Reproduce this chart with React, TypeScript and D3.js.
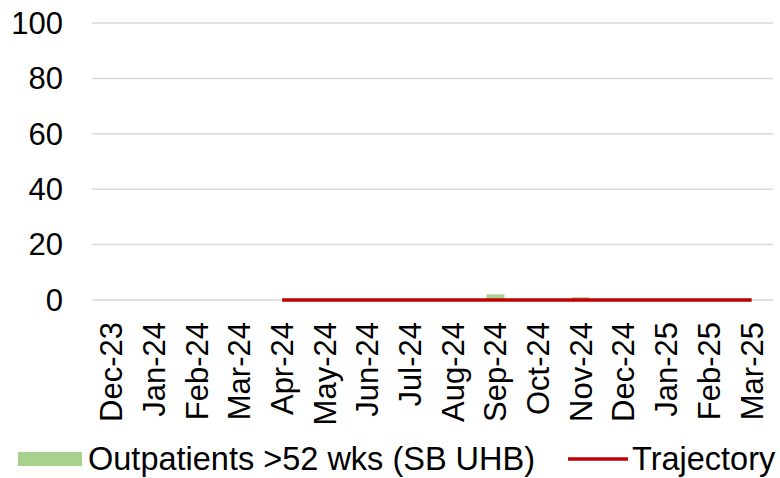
import React from "react";
import * as d3 from "d3";

const categories = ["Dec-23","Jan-24","Feb-24","Mar-24","Apr-24","May-24","Jun-24","Jul-24","Aug-24","Sep-24","Oct-24","Nov-24","Dec-24","Jan-25","Feb-25","Mar-25"];
const outpatients = [0,0,0,0,0,0,0,0,0,2,0,1,0,0,0,0];
const trajectory: (number | null)[] = [null,null,null,null,0,0,0,0,0,0,0,0,0,0,0,0];
const yTicks = [0,20,40,60,80,100];

const W = 780, H = 478;
const left = 90, right = 773, top = 23, bottom = 300;
const FONT = "Liberation Sans, Arial, sans-serif";
const FS = 31;
const LFS = 32.5;

export default function App() {
  const x = d3.scaleBand<string>().domain(categories).range([left, right]).paddingInner(0.58).paddingOuter(0.29);
  const xc = d3.scalePoint<string>().domain(categories).range([left, right]).padding(0.5);
  const y = d3.scaleLinear().domain([0, 100]).range([bottom, top]);
  const line = d3.line<[string, number | null]>()
    .defined(d => d[1] !== null)
    .x(d => xc(d[0]) as number)
    .y(d => y(d[1] as number));
  const pts = categories.map((c, i) => [c, trajectory[i]] as [string, number | null]);

  return (
    <div style={{ position: "absolute", left: 0, top: 0 }}>
      <svg width={W} height={H} style={{ display: "block", background: "#fff" }} fontFamily={FONT}>
        {yTicks.map(t => (
          <g key={t}>
            <line x1={left + 2} x2={right} y1={y(t)} y2={y(t)} stroke="#D9D9D9" strokeWidth={1.5} />
            <text x={63} y={y(t)} dy="0.35em" textAnchor="end" fontSize={FS} fill="#000">{t}</text>
          </g>
        ))}
        {categories.map((c, i) => {
          const v = outpatients[i];
          return v > 0 ? (
            <rect key={c} x={x(c)} width={x.bandwidth()} y={y(v)} height={y(0) - y(v)} fill="#A9D18E" />
          ) : null;
        })}
        <path d={line(pts) || ""} fill="none" stroke="#C00000" strokeWidth={3.5} />
        {categories.map(c => (
          <text key={c} transform={`translate(${xc(c)},${322}) rotate(-90)`} dy="0.35em" textAnchor="end" fontSize={FS} fill="#000">{c}</text>
        ))}
        <g>
          <rect x={18} y={452} width={64} height={14} fill="#A9D18E" />
          <text x={88} y={459} dy="0.35em" fontSize={LFS} fill="#000">Outpatients &gt;52 wks (SB UHB)</text>
          <line x1={568} x2={628} y1={459} y2={459} stroke="#C00000" strokeWidth={3.5} />
          <text x={632} y={459} dy="0.35em" fontSize={LFS} fill="#000">Trajectory</text>
        </g>
      </svg>
    </div>
  );
}
